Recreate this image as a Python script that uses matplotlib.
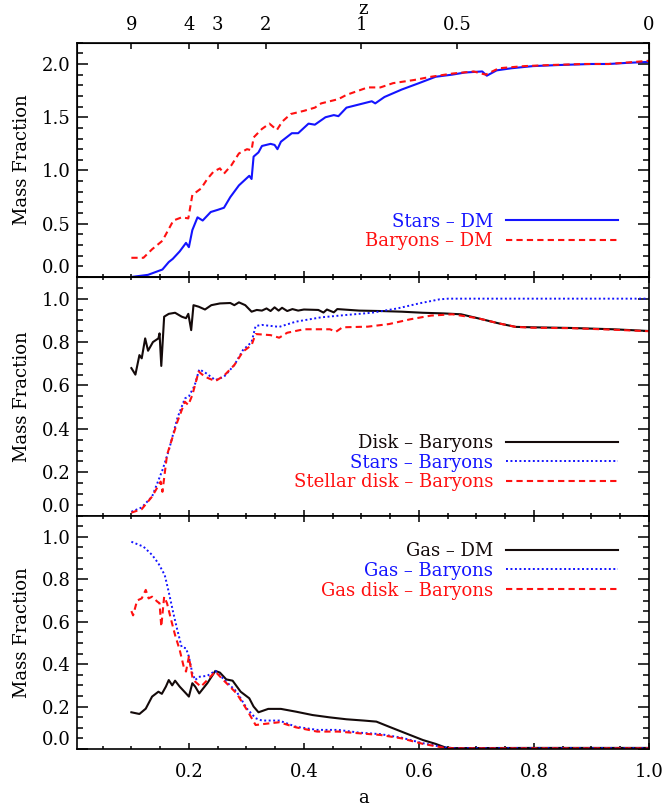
import numpy as np
import matplotlib
matplotlib.use('Agg')
import matplotlib.pyplot as plt
from matplotlib.ticker import MultipleLocator, NullLocator

plt.rcParams['font.family'] = ['DejaVu Serif']
plt.rcParams['font.size'] = 13

# --- top panel: fractions relative to DM ---
a_stars_dm = [0.100, 0.129, 0.154, 0.165, 0.172, 0.184, 0.195, 0.200, 0.206, 0.215,
              0.224, 0.238, 0.250, 0.261, 0.272, 0.287, 0.305, 0.309, 0.3125, 0.321,
              0.327, 0.342, 0.349, 0.354, 0.360, 0.379, 0.390, 0.408, 0.419, 0.4375,
              0.452, 0.460, 0.474, 0.496, 0.518, 0.524, 0.540, 0.570, 0.600, 0.629,
              0.658, 0.680, 0.710, 0.718, 0.735, 0.761, 0.798, 0.842, 0.900, 0.930,
              0.960, 1.000]
f_stars_dm = [0.00, 0.02, 0.07, 0.14, 0.17, 0.24, 0.32, 0.28, 0.44, 0.56,
              0.53, 0.61, 0.63, 0.65, 0.75, 0.86, 0.95, 0.92, 1.13, 1.17,
              1.23, 1.25, 1.24, 1.20, 1.27, 1.35, 1.35, 1.44, 1.43, 1.50,
              1.52, 1.51, 1.59, 1.62, 1.65, 1.63, 1.69, 1.76, 1.82, 1.88,
              1.90, 1.92, 1.93, 1.89, 1.94, 1.96, 1.98, 1.99, 2.00, 2.00,
              2.01, 2.02]

a_bar_dm = [0.100, 0.121, 0.136, 0.154, 0.173, 0.1875, 0.199, 0.206, 0.221, 0.232,
            0.243, 0.254, 0.261, 0.274, 0.287, 0.301, 0.309, 0.3125, 0.327, 0.340,
            0.353, 0.3625, 0.377, 0.400, 0.419, 0.430, 0.460, 0.474, 0.511, 0.533,
            0.555, 0.592, 0.621, 0.658, 0.695, 0.716, 0.739, 0.783, 0.827, 0.886,
            0.930, 1.000]
f_bar_dm = [0.18, 0.18, 0.26, 0.34, 0.53, 0.56, 0.55, 0.77, 0.83, 0.92,
            0.99, 1.02, 0.97, 1.05, 1.16, 1.20, 1.19, 1.31, 1.39, 1.44,
            1.38, 1.46, 1.53, 1.56, 1.59, 1.63, 1.67, 1.71, 1.78, 1.78,
            1.82, 1.85, 1.88, 1.91, 1.93, 1.90, 1.96, 1.98, 1.99, 2.00,
            2.00, 2.03]

# --- middle panel: fractions relative to baryons ---
a_disk_bar = [0.100, 0.107, 0.114, 0.118, 0.124, 0.129, 0.1375, 0.147, 0.149, 0.152,
              0.157, 0.165, 0.176, 0.1875, 0.195, 0.199, 0.204, 0.208, 0.217, 0.228,
              0.239, 0.254, 0.272, 0.279, 0.287, 0.298, 0.309, 0.318, 0.327, 0.335,
              0.342, 0.349, 0.356, 0.362, 0.371, 0.380, 0.390, 0.400, 0.425, 0.434,
              0.440, 0.452, 0.458, 0.496, 0.533, 0.570, 0.607, 0.643, 0.673, 0.702,
              0.739, 0.768, 0.798, 0.864, 0.9375, 1.000]
f_disk_bar = [0.68, 0.65, 0.74, 0.725, 0.817, 0.76, 0.80, 0.817, 0.84, 0.69,
              0.917, 0.93, 0.935, 0.917, 0.91, 0.93, 0.855, 0.97, 0.963, 0.95,
              0.97, 0.978, 0.98, 0.97, 0.983, 0.97, 0.94, 0.948, 0.945, 0.955,
              0.943, 0.96, 0.945, 0.958, 0.943, 0.952, 0.945, 0.95, 0.948, 0.936,
              0.95, 0.937, 0.952, 0.945, 0.943, 0.94, 0.935, 0.932, 0.928, 0.91,
              0.886, 0.87, 0.868, 0.865, 0.859, 0.851]

a_stars_bar = [0.100, 0.118, 0.136, 0.154, 0.165, 0.180, 0.193, 0.200, 0.210, 0.218,
               0.228, 0.246, 0.261, 0.279, 0.294, 0.309, 0.316, 0.327, 0.357, 0.386,
               0.430, 0.474, 0.518, 0.5625, 0.600, 0.636, 0.651, 1.000]
f_stars_bar = [0.018, 0.038, 0.088, 0.21, 0.30, 0.45, 0.54, 0.55, 0.60, 0.674,
               0.66, 0.625, 0.64, 0.694, 0.763, 0.80, 0.874, 0.879, 0.87, 0.894,
               0.914, 0.925, 0.935, 0.955, 0.978, 0.997, 1.0, 1.0]

a_sdisk_bar = [0.100, 0.118, 0.136, 0.151, 0.154, 0.162, 0.180, 0.193, 0.199, 0.206,
               0.217, 0.228, 0.246, 0.261, 0.279, 0.294, 0.309, 0.316, 0.342, 0.357,
               0.371, 0.400, 0.445, 0.456, 0.467, 0.511, 0.548, 0.585, 0.621, 0.658,
               0.702, 0.739, 0.768, 0.798, 0.864, 0.9375, 1.000]
f_sdisk_bar = [0.014, 0.03, 0.088, 0.157, 0.11, 0.28, 0.433, 0.525, 0.51, 0.556,
               0.664, 0.64, 0.62, 0.645, 0.694, 0.756, 0.786, 0.837, 0.832, 0.82,
               0.843, 0.859, 0.859, 0.848, 0.868, 0.871, 0.883, 0.905, 0.922, 0.928,
               0.91, 0.886, 0.87, 0.866, 0.864, 0.857, 0.85]

# --- bottom panel: gas fractions ---
a_gas_dm = [0.100, 0.114, 0.125, 0.136, 0.147, 0.153, 0.160, 0.165, 0.171, 0.176,
            0.184, 0.195, 0.200, 0.206, 0.211, 0.218, 0.232, 0.246, 0.254, 0.265,
            0.276, 0.290, 0.305, 0.3125, 0.321, 0.338, 0.360, 0.386, 0.415, 0.445,
            0.474, 0.504, 0.526, 0.548, 0.577, 0.607, 0.629, 0.647, 0.660, 0.800,
            1.000]
f_gas_dm = [0.173, 0.165, 0.19, 0.247, 0.27, 0.26, 0.294, 0.325, 0.30, 0.322,
            0.294, 0.262, 0.247, 0.31, 0.294, 0.262, 0.31, 0.368, 0.36, 0.328,
            0.322, 0.27, 0.239, 0.20, 0.173, 0.189, 0.189, 0.176, 0.16, 0.149,
            0.14, 0.134, 0.129, 0.105, 0.074, 0.042, 0.024, 0.006, 0.004, 0.005,
            0.005]

a_gas_bar = [0.100, 0.121, 0.136, 0.147, 0.158, 0.165, 0.173, 0.180, 0.1875, 0.195,
             0.200, 0.206, 0.211, 0.217, 0.232, 0.246, 0.261, 0.283, 0.301, 0.316,
             0.327, 0.357, 0.386, 0.423, 0.460, 0.496, 0.533, 0.570, 0.607, 0.643,
             0.660, 1.000]
f_gas_bar = [0.977, 0.954, 0.915, 0.875, 0.82, 0.74, 0.64, 0.56, 0.48, 0.475,
             0.435, 0.357, 0.325, 0.34, 0.345, 0.368, 0.328, 0.27, 0.19, 0.145,
             0.134, 0.134, 0.105, 0.09, 0.09, 0.077, 0.07, 0.053, 0.027, 0.008,
             0.004, 0.004]

a_gdisk_bar = [0.100, 0.103, 0.110, 0.118, 0.125, 0.130, 0.136, 0.145, 0.149, 0.152,
               0.157, 0.162, 0.169, 0.176, 0.184, 0.191, 0.195, 0.200, 0.206, 0.211,
               0.221, 0.232, 0.246, 0.261, 0.283, 0.301, 0.316, 0.331, 0.357, 0.386,
               0.423, 0.460, 0.496, 0.533, 0.570, 0.607, 0.643, 0.660, 1.000]
f_gdisk_bar = [0.65, 0.63, 0.70, 0.71, 0.75, 0.71, 0.718, 0.695, 0.687, 0.577,
               0.718, 0.687, 0.61, 0.537, 0.467, 0.388, 0.365, 0.435, 0.34, 0.317,
               0.294, 0.325, 0.365, 0.322, 0.262, 0.184, 0.113, 0.118, 0.126, 0.102,
               0.082, 0.082, 0.074, 0.066, 0.05, 0.024, 0.006, 0.003, 0.003]

# axis ticks
z_ticks = [9, 4, 3, 2, 1, 0.5, 0]
z_labels = ['9', '4', '3', '2', '1', '0.5', '0']
a_ticks = [0.2, 0.4, 0.6, 0.8, 1.0]
yticks_top = [0.0, 0.5, 1.0, 1.5, 2.0]
yticks_frac = [0.0, 0.2, 0.4, 0.6, 0.8, 1.0]

BLUE = '#1414ff'
RED = '#ff1010'
BLACK = '#140a0a'
DASHED = (0, (3, 2))
DOTTED = (0, (1, 1.3))

fig = plt.figure(figsize=(6.63, 8.07), dpi=100)
left, width = 0.1166, 0.8623
ax_top = fig.add_axes([left, 0.6568, width, 0.2903])
ax_mid = fig.add_axes([left, 0.3610, width, 0.2958])
ax_bot = fig.add_axes([left, 0.0719, width, 0.2891])


def style(ax, ymax, yticks, yminor):
    ax.set_xlim(0.006, 1.0)
    ax.set_ylim(0, ymax)
    ax.set_xticks(a_ticks, ['%.1f' % t for t in a_ticks])
    ax.xaxis.set_minor_locator(MultipleLocator(0.05))
    ax.set_yticks(yticks, ['%.1f' % t for t in yticks])
    ax.yaxis.set_minor_locator(MultipleLocator(yminor))
    ax.tick_params(which='both', direction='in', top=True, right=True, width=1.1)
    ax.tick_params(axis='x', which='major', length=4, pad=10)
    ax.tick_params(axis='x', which='minor', length=2.2)
    ax.tick_params(axis='y', which='major', length=8, pad=5)
    ax.tick_params(axis='y', which='minor', length=4.3)
    for s in ax.spines.values():
        s.set_linewidth(1.2)
    # IDL-style: lowest label sits above the axis corner
    ax.yaxis.get_major_ticks()[0].label1.set_verticalalignment('bottom')
    ax.set_ylabel('Mass Fraction')
    ax.yaxis.set_label_coords(-0.081, 0.5)


style(ax_top, 2.2, yticks_top, 0.1)
style(ax_mid, 1.1, yticks_frac, 0.05)
style(ax_bot, 1.1, yticks_frac, 0.05)
ax_top.tick_params(labelbottom=False)
ax_mid.tick_params(labelbottom=False)
ax_bot.set_xlabel('a', labelpad=6)

lw = 1.5
ax_top.plot(a_stars_dm, f_stars_dm, color=BLUE, lw=lw, label='Stars \u2013 DM')
ax_top.plot(a_bar_dm, f_bar_dm, color=RED, lw=lw, ls=DASHED, label='Baryons \u2013 DM')

ax_mid.plot(a_disk_bar, f_disk_bar, color=BLACK, lw=lw, label='Disk \u2013 Baryons')
ax_mid.plot(a_stars_bar, f_stars_bar, color=BLUE, lw=1.4, ls=DOTTED, label='Stars \u2013 Baryons')
ax_mid.plot(a_sdisk_bar, f_sdisk_bar, color=RED, lw=lw, ls=DASHED, label='Stellar disk \u2013 Baryons')

ax_bot.plot(a_gas_dm, f_gas_dm, color=BLACK, lw=lw, label='Gas \u2013 DM')
ax_bot.plot(a_gas_bar, f_gas_bar, color=BLUE, lw=1.4, ls=DOTTED, label='Gas \u2013 Baryons')
ax_bot.plot(a_gdisk_bar, f_gdisk_bar, color=RED, lw=lw, ls=DASHED, label='Gas disk \u2013 Baryons')

leg_kw = dict(loc='center right', markerfirst=False, frameon=False, handlelength=6.2,
              handletextpad=0.75, labelspacing=0.1, borderpad=0, borderaxespad=0,
              labelcolor='linecolor', fontsize=13)
ax_top.legend(bbox_to_anchor=(0.9465, 0.194), **leg_kw)
ax_mid.legend(bbox_to_anchor=(0.9465, 0.222), **leg_kw)
ax_bot.legend(bbox_to_anchor=(0.9465, 0.764), **leg_kw)

# redshift axis on top
ax_z = ax_top.twiny()
ax_z.set_xlim(ax_top.get_xlim())
ax_z.set_xticks([1.0 / (1.0 + z) for z in z_ticks], z_labels)
ax_z.xaxis.set_minor_locator(NullLocator())
ax_z.tick_params(axis='x', direction='in', length=4.5, width=1.1, pad=6)
ax_z.set_xlabel('z', labelpad=2)

fig.savefig('out.png', dpi=100)
